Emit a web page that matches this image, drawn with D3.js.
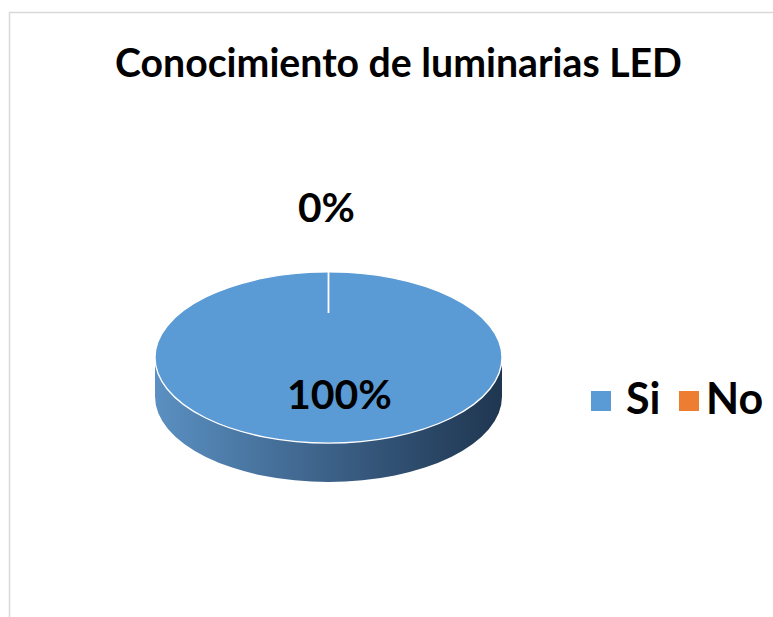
<!DOCTYPE html>
<html><head><meta charset="utf-8">
<script src="https://cdn.jsdelivr.net/npm/d3@7"></script>
<style>html,body{margin:0;padding:0;background:#fff;}svg{display:block;}</style>
</head><body>
<svg id="c" width="773" height="617"></svg>
<script>
const title = "Conocimiento de luminarias LED";
const categories = ["Si", "No"];
const values = [100, 0];
const colors = ["#5b9bd5", "#ed7d31"];

const svg = d3.select("#c");
const font = "Lato, 'Open Sans', sans-serif";

function fit(sel, width) {
  const w = sel.node().getComputedTextLength();
  const fs = +sel.attr("font-size");
  sel.attr("font-size", fs * width / w);
  return sel;
}

// chart border (partly outside window)
svg.append("rect").attr("x", 9.5).attr("y", 12.5).attr("width", 800).attr("height", 700)
  .attr("fill", "#fff").attr("stroke", "#d9d9d9").attr("stroke-width", 1.5);

// title fitted to width
const t = svg.append("text").attr("x", 398.5).attr("y", 77).attr("text-anchor", "middle")
  .attr("font-family", font).attr("font-weight", 700).attr("font-size", 40).attr("fill", "#000").text(title);
fit(t, 567);

const total = d3.sum(values);
const pie = d3.pie().sort(null).value(d => d).startAngle(0).endAngle(2 * Math.PI);
const arcs = pie(values);

const cx = 328.5, cy = 357.5, rx = 173.5, ry = 85.5, depth = 39;
const px = (a, r = 1) => cx + rx * r * Math.sin(a);
const py = (a, r = 1) => cy - ry * r * Math.cos(a);

// gradient for side
const defs = svg.append("defs");
const g = defs.append("linearGradient").attr("id", "side").attr("x1", "0").attr("x2", "1").attr("y1", "0").attr("y2", "0");
[[0, "#5a90c2"], [0.35, "#456f99"], [0.7, "#304f71"], [1, "#1f3650"]].forEach(s =>
  g.append("stop").attr("offset", s[0]).attr("stop-color", s[1]));

// side (front half)
const sp = `M${cx - rx},${cy} A${rx},${ry} 0 0 0 ${cx + rx},${cy} L${cx + rx},${cy + depth} A${rx},${ry} 0 0 1 ${cx - rx},${cy + depth} Z`;
svg.append("path").attr("d", sp).attr("fill", "url(#side)");

// top face slices
arcs.forEach((a, i) => {
  if (a.endAngle - a.startAngle <= 0) return;
  let d;
  if (a.endAngle - a.startAngle >= 2 * Math.PI - 1e-9) {
    d = `M${cx - rx},${cy} A${rx},${ry} 0 1 0 ${cx + rx},${cy} A${rx},${ry} 0 1 0 ${cx - rx},${cy} Z`;
  } else {
    const large = (a.endAngle - a.startAngle) > Math.PI ? 1 : 0;
    d = `M${cx},${cy} L${px(a.startAngle)},${py(a.startAngle)} A${rx},${ry} 0 ${large} 1 ${px(a.endAngle)},${py(a.endAngle)} Z`;
  }
  svg.append("path").attr("d", d).attr("fill", colors[i]).attr("stroke", "#fff").attr("stroke-width", 1.3);
});

// slice boundary line (zero-width slice)
arcs.forEach((a) => {
  if (a.endAngle - a.startAngle === 0) {
    svg.append("line").attr("x1", px(a.startAngle)).attr("y1", py(a.startAngle))
      .attr("x2", px(a.startAngle, 0.52)).attr("y2", py(a.startAngle, 0.52))
      .attr("stroke", "#fff").attr("stroke-width", 1.8);
  }
});

// data labels
const fmt = v => Math.round(v / total * 100) + "%";
const labelPos = [[cx + 11, cy + 51], [cx - 2, cy - ry - 50]];
const labelW = [105, 57];
arcs.forEach((a, i) => {
  const l = svg.append("text").attr("x", labelPos[i][0]).attr("y", labelPos[i][1]).attr("text-anchor", "middle")
    .attr("font-family", font).attr("font-weight", 700).attr("font-size", 40).attr("fill", "#000")
    .text(fmt(values[i]));
  fit(l, labelW[i]);
});

// legend
const leg = [{x: 591, tx: 626}, {x: 679, tx: 706}];
categories.forEach((c, i) => {
  svg.append("rect").attr("x", leg[i].x).attr("y", 391).attr("width", 20).attr("height", 20).attr("fill", colors[i]);
  svg.append("text").attr("x", leg[i].tx).attr("y", 413.5).attr("font-family", font).attr("font-weight", 700)
    .attr("font-size", 43).attr("fill", "#000").text(c);
});
</script>
</body></html>
